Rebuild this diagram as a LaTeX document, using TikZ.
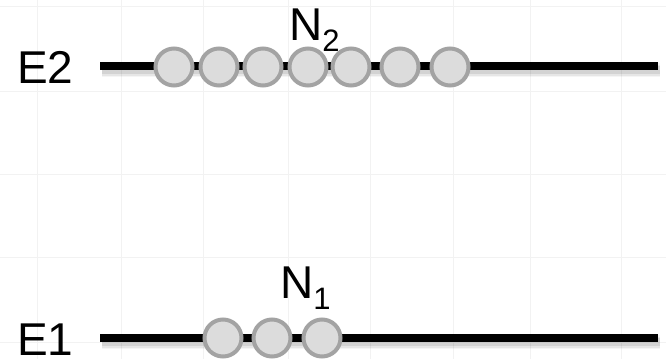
\documentclass[tikz,border=0pt]{standalone}
\usepackage{fontspec}
\setmainfont{Liberation Sans}
\definecolor{gridc}{HTML}{F2F2F2}
\definecolor{ballfill}{HTML}{DCDCDC}
\definecolor{balldraw}{HTML}{A3A3A3}
\tikzset{
  gridline/.style={draw=gridc, line width=1pt},
  level/.style={draw=black, line width=8pt, line cap=butt},
  levelshadow/.style={draw=black, line cap=butt},
  ball/.style={circle, draw=balldraw, fill=ballfill, line width=4pt, minimum size=37pt, inner sep=0pt},
  lbl/.style={inner sep=0pt, anchor=base west, font=\fontsize{46}{46}\selectfont}
}
\newcommand{\subsc}[1]{\raisebox{-11pt}{\fontsize{31}{31}\selectfont #1}}
\begin{document}
\begin{tikzpicture}[x=1pt,y=-1pt]
\useasboundingbox (0,0) rectangle (666,359);
\fill[white] (0,0) rectangle (666,359);
% background grid
\foreach \gy in {6,91,174,257,342} \draw[gridline] (0,\gy) -- (666,\gy);
\foreach \gx in {37,121,203,288,370,453,530,621} \draw[gridline] (\gx,0) -- (\gx,359);
% level end points
\coordinate (e2s) at (100,66);
\coordinate (e2e) at (658,66);
\coordinate (e1s) at (100,338);
\coordinate (e1e) at (658,338);
% shadows
\foreach \s in {e2,e1} {
  \draw[levelshadow, line width=14pt, opacity=0.04] ([shift={(2,4)}]\s s) -- ([shift={(2,4)}]\s e);
  \draw[levelshadow, line width=11pt, opacity=0.06] ([shift={(2,4)}]\s s) -- ([shift={(2,4)}]\s e);
  \draw[levelshadow, line width=8pt, opacity=0.08] ([shift={(2,4)}]\s s) -- ([shift={(2,4)}]\s e);
}
% levels
\draw[level] (e2s) -- (e2e);
\draw[level] (e1s) -- (e1e);
% particles on E2
\foreach \i/\cx in {1/174,2/219,3/263,4/308,5/351,6/400,7/450}
  \node[ball] (a\i) at (\cx,67) {};
% particles on E1
\foreach \i/\cx in {1/223,2/272,3/322}
  \node[ball] (b\i) at (\cx,338) {};
% labels
\node[lbl] (E2) at (17,83) {E2};
\node[lbl] (E1) at (17,355) {E1};
\node[lbl] (N2) at (289,40) {N\subsc{2}};
\node[lbl] (N1) at (280,298) {N\subsc{1}};
\end{tikzpicture}
\end{document}
